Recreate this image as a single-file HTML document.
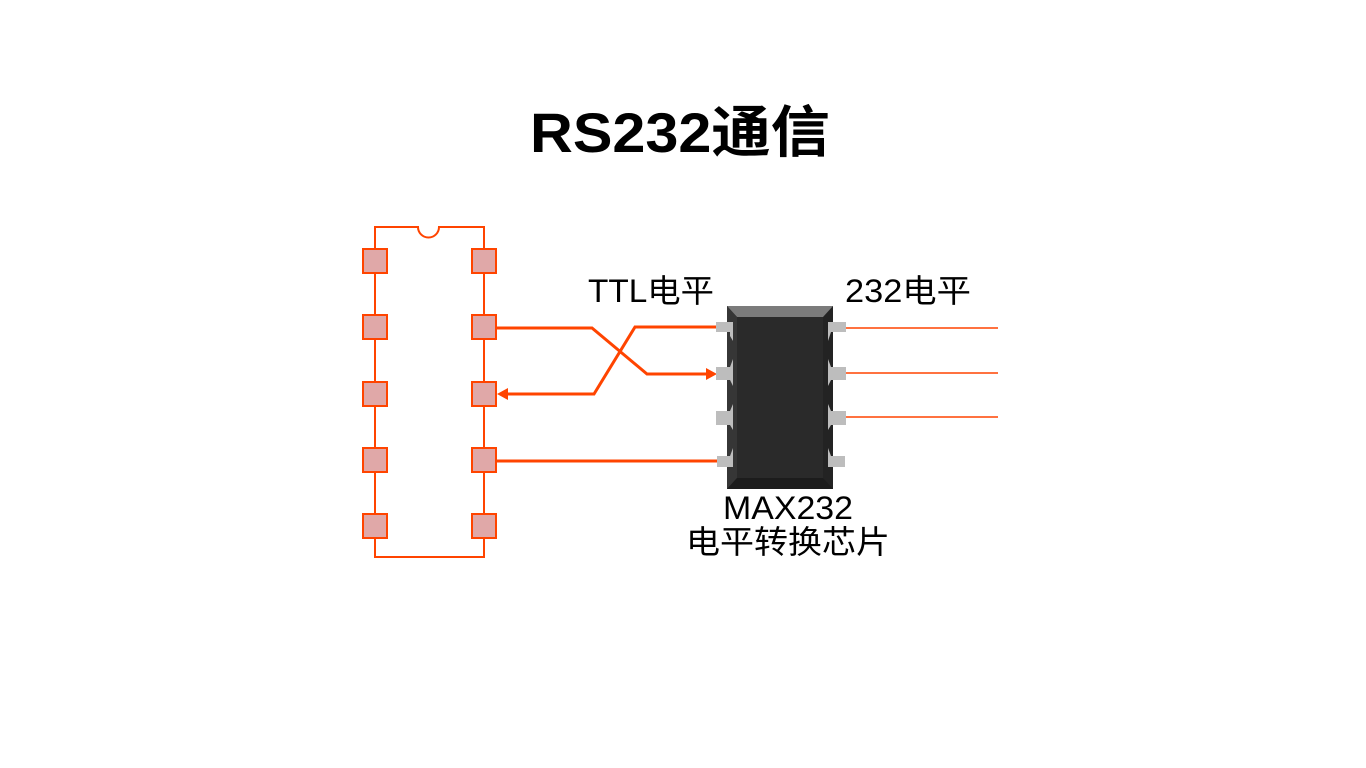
<!DOCTYPE html>
<html><head><meta charset="utf-8"><style>
html,body{margin:0;padding:0;background:#fff;width:1366px;height:768px;overflow:hidden}
svg{display:block}
</style></head><body>
<svg width="1366" height="768" xmlns="http://www.w3.org/2000/svg">
<text x="530" y="152" textLength="300" lengthAdjust="spacingAndGlyphs" font-family="Liberation Sans, Noto Sans CJK SC, sans-serif" font-size="56" font-weight="bold" fill="#000">RS232通信</text>
<!-- left IC -->
<path d="M375,227 H418 A10.5,10.5 0 0 0 439,227 H484 V557 H375 Z" fill="none" stroke="#ff4400" stroke-width="2"/>
<g fill="#e0a8a8" stroke="#ff4400" stroke-width="2">
<rect x="363" y="249" width="24" height="24"/><rect x="472" y="249" width="24" height="24"/>
<rect x="363" y="315" width="24" height="24"/><rect x="472" y="315" width="24" height="24"/>
<rect x="363" y="382" width="24" height="24"/><rect x="472" y="382" width="24" height="24"/>
<rect x="363" y="448" width="24" height="24"/><rect x="472" y="448" width="24" height="24"/>
<rect x="363" y="514" width="24" height="24"/><rect x="472" y="514" width="24" height="24"/>
</g>
<!-- wires -->
<g fill="none" stroke="#ff4400" stroke-width="3">
<polyline points="496,328 592,328 647,374 708,374"/>
<polyline points="718,327 635,327 594,394 506,394"/>
<line x1="496" y1="461" x2="718" y2="461"/>
</g>
<polygon points="717,374 706,368 706,380" fill="#ff4400"/>
<polygon points="497,394 508,388 508,400" fill="#ff4400"/>
<g stroke="#ff4400" stroke-width="1.5">
<line x1="845" y1="328" x2="998" y2="328"/>
<line x1="845" y1="373" x2="998" y2="373"/>
<line x1="845" y1="417" x2="998" y2="417"/>
</g>
<!-- chip -->
<rect x="727" y="306" width="106" height="183" fill="#232323"/>
<polygon points="727,306 833,306 823,317 737,317" fill="#7b7b7b"/>
<polygon points="727,306 737,317 737,478 727,489" fill="#363636"/>
<polygon points="727,489 737,478 823,478 833,489" fill="#1c1c1c"/>
<rect x="737" y="317" width="86" height="161" fill="#2a2a2a"/>
<g fill="#bdbdbd">
<polygon points="716,322 733,322 733,341 730,336 730,332 716,332"/>
<polygon points="716,367 730,367 733,359 733,386 730,380 716,380"/>
<polygon points="716,411 730,411 733,404 733,430 730,425 716,425"/>
<polygon points="717,456 730,456 733,448 733,467 717,467"/>
<polygon points="828,322 846,322 846,332 831,332 828,341"/>
<polygon points="828,359 831,367 846,367 846,380 831,380 828,386"/>
<polygon points="828,404 831,411 846,411 846,425 831,425 828,430"/>
<polygon points="828,448 831,456 845,456 845,467 828,467"/>
</g>
<g font-family="Liberation Sans, Noto Sans CJK SC, sans-serif" font-size="32" fill="#000" lengthAdjust="spacingAndGlyphs">
<text x="588" y="302" textLength="126" lengthAdjust="spacingAndGlyphs">TTL电平</text>
<text x="845" y="302" textLength="126" lengthAdjust="spacingAndGlyphs">232电平</text>
<text x="723" y="519" textLength="130" lengthAdjust="spacingAndGlyphs">MAX232</text>
<text x="686" y="553" textLength="204" lengthAdjust="spacingAndGlyphs">电平转换芯片</text>
</g>
</svg>
</body></html>
